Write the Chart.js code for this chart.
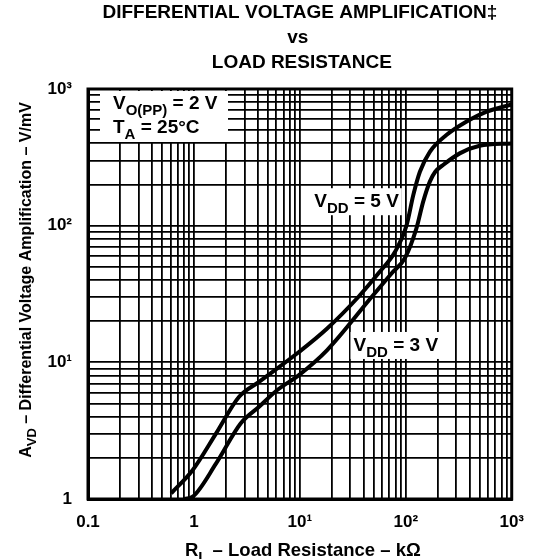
<!DOCTYPE html>
<html>
<head>
<meta charset="utf-8">
<script src="https://cdn.jsdelivr.net/npm/chart.js@4.4.1/dist/chart.umd.min.js"></script>
<style>
  html, body { margin: 0; padding: 0; background: #fff; }
  canvas { display: block; }
</style>
</head>
<body>
<canvas id="chartGain" width="537" height="559"></canvas>
<script>
// load resistance (kOhm) and gain (V/mV)
const loadRes5V = [0.61, 0.975, 1.62, 2.67, 4.12, 9.8, 18.1, 35.8, 55.2, 79.2, 101.8, 117.6, 135.9, 168.7, 241.7, 372, 573, 1000];
const gain5V = [1.10, 1.63, 3.02, 5.6, 7.2, 11.9, 17.7, 30.2, 44.8, 64.4, 101, 167, 248, 347, 460, 576, 681, 771];

const loadRes3V = [0.815, 0.975, 1.62, 2.77, 4.12, 6.12, 9.8, 18.1, 47.8, 73.6, 98.2, 126, 146, 168.7, 189, 225, 323, 498, 1000];
const gain3V = [1.0, 1.04, 1.82, 3.58, 4.73, 6.27, 8.07, 12.3, 30.2, 44.8, 58, 95.5, 150, 210, 247, 278, 338, 384, 400];

// tick labels
const xTickValues = [0.1, 1, 10, 100, 1000];
const xTickLabels = ['0.1', '1', '10¹', '10²', '10³'];
const yTickValues = [1, 10, 100, 1000];
const yTickLabels = ['1', '10¹', '10²', '10³'];

const titleLines = ['DIFFERENTIAL VOLTAGE AMPLIFICATION‡', 'vs', 'LOAD RESISTANCE'];

const FONT = '"Liberation Sans", Arial, Helvetica, sans-serif';

// full log grid: 1..9 in every decade
function logGrid(majors) {
    const out = [];
    for (let i = 0; i < majors.length - 1; i++) {
        for (let k = 1; k < 10; k++) out.push(majors[i] * k);
    }
    out.push(majors[majors.length - 1]);
    return out;
}
const xGrid = logGrid(xTickValues);
const yGrid = logGrid(yTickValues);

// text with subscripts: parts = [[text, isSub], ...]
function drawRich(c, parts, x, y, size, align) {
    const big = 'bold ' + size + 'px ' + FONT;
    const small = 'bold ' + Math.round(size * 0.8) + 'px ' + FONT;
    let w = 0;
    parts.forEach(p => { c.font = p[1] ? small : big; w += c.measureText(p[0]).width; });
    let cx = align === 'center' ? x - w / 2 : x;
    c.textAlign = 'left';
    c.textBaseline = 'alphabetic';
    parts.forEach(p => {
        c.font = p[1] ? small : big;
        c.fillText(p[0], cx, y + (p[1] ? size * 0.3 : 0));
        cx += c.measureText(p[0]).width;
    });
    return w;
}

const labelsPlugin = {
    id: 'labels',
    beforeDatasetsDraw(chart) {
        const c = chart.ctx;
        const a = chart.chartArea;
        const xs = chart.scales.x, ys = chart.scales.y;
        c.save();

        // conditions box, top-left
        c.fillStyle = '#fff';
        c.fillRect(a.left + 12, a.top + 2, 128, 51);
        c.fillStyle = '#000';
        drawRich(c, [['V'], ['O(PP)', 1], [' = 2 V']], a.left + 25, a.top + 20, 19, 'left');
        drawRich(c, [['T'], ['A', 1], [' = 25°C']], a.left + 25, a.top + 44, 19, 'left');

        // curve labels placed in data coordinates
        const curveLabels = [
            { parts: [['V'], ['DD', 1], [' = 5 V']], x: 34.3, y: 151 },
            { parts: [['V'], ['DD', 1], [' = 3 V']], x: 80.5, y: 13.4 }
        ];
        curveLabels.forEach(l => {
            const px = xs.getPixelForValue(l.x), py = ys.getPixelForValue(l.y);
            let w = 0;
            l.parts.forEach(p => {
                c.font = 'bold ' + (p[1] ? 15 : 19) + 'px ' + FONT;
                w += c.measureText(p[0]).width;
            });
            c.fillStyle = '#fff';
            c.fillRect(px - w / 2 - 3, py - 13, w + 6, 27);
            c.fillStyle = '#000';
            drawRich(c, l.parts, px, py + 6, 19, 'center');
        });

        // heavy frame
        c.strokeStyle = '#000';
        c.lineWidth = 3;
        c.strokeRect(a.left, a.top, a.right - a.left, a.bottom - a.top);
        c.restore();
    },
    afterDraw(chart) {
        const c = chart.ctx;
        const a = chart.chartArea;
        const mid = (a.left + a.right) / 2;
        c.save();
        c.fillStyle = '#000';
        c.textAlign = 'center';
        c.textBaseline = 'alphabetic';
        c.font = 'bold 19px ' + FONT;
        c.fillText(titleLines[0], mid, 18);
        c.fillText(titleLines[1], mid - 2, 43);
        c.fillText(titleLines[2], mid + 2, 68);

        // x axis title
        drawRich(c, [['R'], ['L', 1], [' – Load Resistance – kΩ']], mid + 3, 556, 18.5, 'center');

        // y axis title, rotated
        c.translate(31, (a.top + a.bottom) / 2 - 14);
        c.rotate(-Math.PI / 2);
        drawRich(c, [['A'], ['VD', 1], [' – Differential Voltage Amplification – V/mV']], 0, 0, 16, 'center');
        c.restore();
    }
};

const ctx = document.getElementById('chartGain');

const tickFont = { family: FONT, size: 17, weight: 'bold' };

new Chart(ctx, {
    type: 'line',
    data: {
        datasets: [{
            label: 'VDD = 5 V',
            data: loadRes5V.map((x, i) => ({ x: x, y: gain5V[i] })),
            borderColor: '#000',
            borderWidth: 4,
            pointRadius: 0,
            fill: false,
            cubicInterpolationMode: 'monotone'
        }, {
            label: 'VDD = 3 V',
            data: loadRes3V.map((x, i) => ({ x: x, y: gain3V[i] })),
            borderColor: '#000',
            borderWidth: 4,
            pointRadius: 0,
            fill: false,
            cubicInterpolationMode: 'monotone'
        }]
    },
    options: {
        responsive: false,
        animation: false,
        layout: {
            padding: { top: 89, right: 23, left: 0, bottom: 0 }
        },
        plugins: {
            legend: { display: false },
            tooltip: { enabled: false }
        },
        scales: {
            x: {
                type: 'logarithmic',
                min: 0.1,
                max: 1000,
                afterBuildTicks: s => { s.ticks = xGrid.map(v => ({ value: v })); },
                afterFit: s => { s.height = 60; },
                grid: { color: '#000', lineWidth: 1.8, drawTicks: false },
                border: { color: '#000', width: 3 },
                ticks: {
                    autoSkip: false,
                    maxRotation: 0,
                    padding: 13,
                    color: '#000',
                    font: tickFont,
                    callback: v => {
                        const i = xTickValues.indexOf(v);
                        return i >= 0 ? xTickLabels[i] : '';
                    }
                }
            },
            y: {
                type: 'logarithmic',
                min: 1,
                max: 1000,
                afterBuildTicks: s => { s.ticks = yGrid.map(v => ({ value: v })); },
                afterFit: s => { s.width = 88; },
                grid: { color: '#000', lineWidth: 1.8, drawTicks: false },
                border: { color: '#000', width: 3 },
                ticks: {
                    autoSkip: false,
                    padding: 16,
                    color: '#000',
                    font: tickFont,
                    callback: v => {
                        const i = yTickValues.indexOf(v);
                        return i >= 0 ? yTickLabels[i] : '';
                    }
                }
            }
        }
    },
    plugins: [labelsPlugin]
});
</script>
</body>
</html>
